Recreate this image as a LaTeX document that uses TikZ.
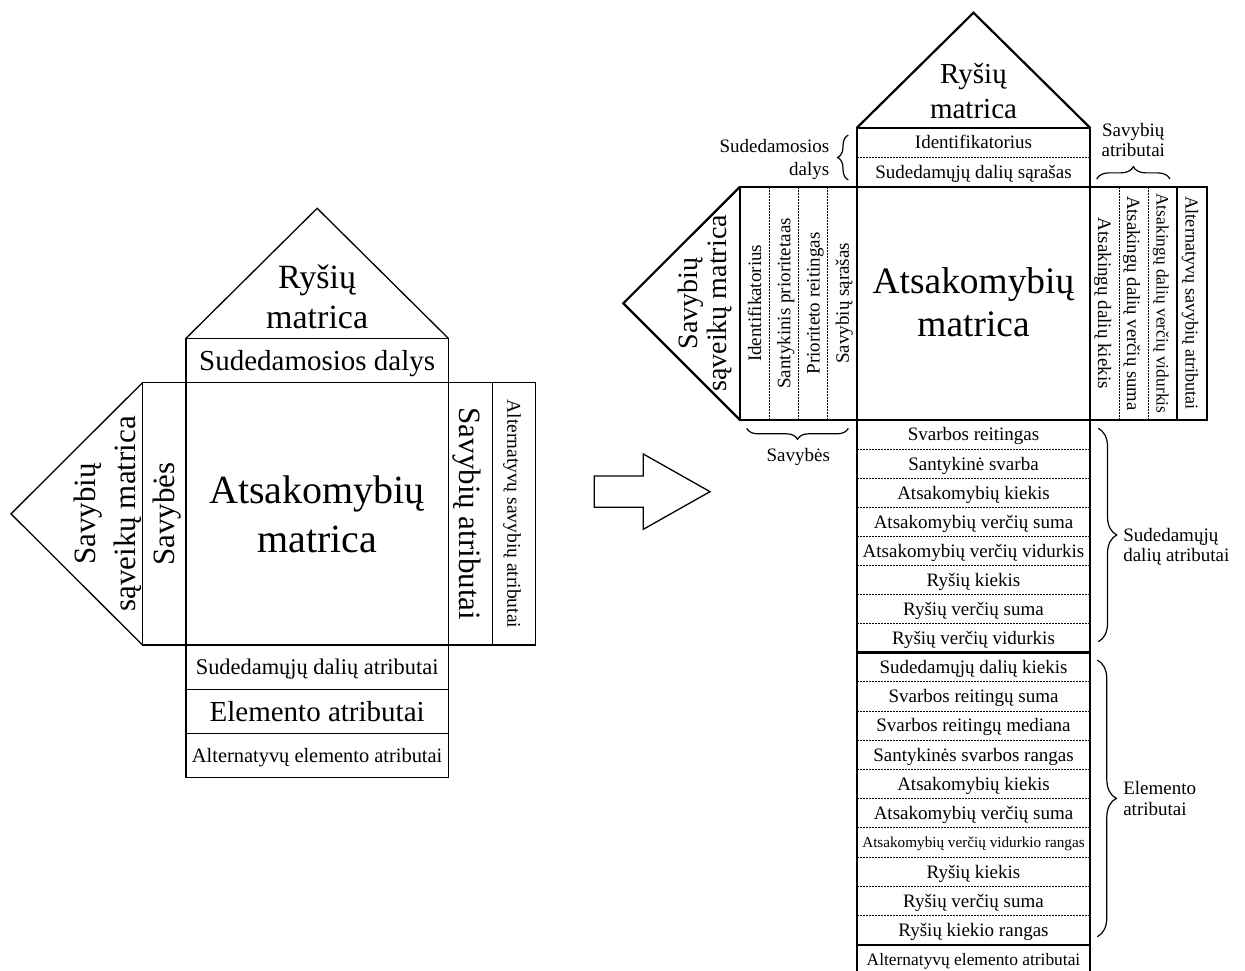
\documentclass[tikz,border=0pt]{standalone}
\usepackage{fontspec}
\setmainfont{Liberation Serif}
\usetikzlibrary{decorations.pathreplacing}

\tikzset{
  % one line of text, centred on its line box
  wtxt/.style={inner sep=0pt, outer sep=0pt,
    font=\fontsize{#1}{\fpeval{1.6875*#1}}\selectfont,
    execute at begin node=\strut},
  % several lines: font size, line spacing
  mtxt/.style 2 args={inner sep=0pt, outer sep=0pt,
    font=\fontsize{#1}{#2}\selectfont, align=center},
  lbox/.style={draw, line width=1.3pt, inner sep=0pt, outer sep=0pt},
  rbox/.style={draw, line width=2.2pt, inner sep=0pt, outer sep=0pt},
  lline/.style={line width=1.3pt, line join=miter},
  rline/.style={line width=2.2pt, line join=miter},
  dotsep/.style={line width=0.8pt, dash pattern=on 1.8pt off 1.2pt},
  brc/.style={decorate, line width=1.2pt,
    decoration={brace, amplitude=#1pt}},
}

\begin{document}
\begin{tikzpicture}[x=1pt,y=-1pt]
\useasboundingbox (0,0) rectangle (1245,970);

% ---------------- overview house ----------------
\coordinate (lapex) at (317.15,208.3);
\coordinate (ltip) at (11,513.85);
\node[lbox, minimum width=262.3, minimum height=44.4] (lsd) at (317.15,360.5) {};
\node[lbox, minimum width=262.3, minimum height=262.3] (lmain) at (317.15,513.85) {};
\node[lbox, minimum width=43.7, minimum height=262.3] (lsv) at (164.35,513.85) {};
\node[lbox, minimum width=44, minimum height=262.3] (lsa) at (470.3,513.85) {};
\node[lbox, minimum width=43.4, minimum height=262.3] (las) at (514,513.85) {};
\node[lbox, minimum width=262.3, minimum height=44.3] (lcp) at (317.15,667.15) {};
\node[lbox, minimum width=262.3, minimum height=44] (lel) at (317.15,711.3) {};
\node[lbox, minimum width=262.3, minimum height=44] (lae) at (317.15,755.3) {};
\draw[lline] (lsd.north west) -- (lapex) -- (lsd.north east);
\draw[lline] (lsv.north west) -- (ltip) -- (lsv.south west);

\node[mtxt={34}{40}] (tlry) at (317.15,300.3) {\strut Ryšių\\matrica\strut};
\node[wtxt=29] (tlsd) at (lsd) {Sudedamosios dalys};
\node[mtxt={40}{49}] (tlat) at (317.15,518) {\strut Atsakomybių\\matrica\strut};
\node[mtxt={31}{40}, rotate=90] (tlsm) at (107.7,513.85) {\strut Savybių\\sąveikų matrica\strut};
\node[wtxt=31, rotate=90] (tlsv) at (lsv) {Savybės};
\node[wtxt=31, rotate=-90] (tlsa) at (lsa) {Savybių atributai};
\node[wtxt=19.5, rotate=-90] (tlas) at (las) {Alternatyvų savybių atributai};
\node[wtxt=22.4] (tlcp) at (lcp) {Sudedamųjų dalių atributai};
\node[wtxt=29] (tlel) at (lel) {Elemento atributai};
\node[wtxt=20.4] (tlae) at (lae) {Alternatyvų elemento atributai};

% ---------------- block arrow ----------------
\draw[lline] (594.3,476) -- (643.3,476) -- (643.3,454) -- (710,491.65)
  -- (643.3,529.3) -- (643.3,507.3) -- (594.3,507.3) -- cycle;

% ---------------- detailed house ----------------
\coordinate (rapex) at (973.5,12.7);
\coordinate (rtip) at (623.3,303.35);
\node[rbox, minimum width=233, minimum height=59] (rsd) at (973.5,157.2) {};
\node[rbox, minimum width=233, minimum height=233.3] (rmain) at (973.5,303.35) {};
\node[rbox, minimum width=117, minimum height=233.3] (rsv) at (798.5,303.35) {};
\node[rbox, minimum width=87, minimum height=233.3] (rsa) at (1133.5,303.35) {};
\node[rbox, minimum width=29.7, minimum height=233.3] (ras) at (1191.85,303.35) {};
\node[rbox, minimum width=233, minimum height=232.5] (rg1) at (973.5,536.25) {};
\node[rbox, minimum width=233, minimum height=292.2] (rg2) at (973.5,798.6) {};
\node[rbox, minimum width=233, minimum height=29.3] (ralt) at (973.5,959.35) {};
\draw[rline] (rsd.north west) -- (rapex) -- (rsd.north east);
\draw[rline] (rsv.north west) -- (rtip) -- (rsv.south west);

% dotted dividers
\draw[dotsep] (rsd.west) -- (rsd.east);
\foreach \x in {769.25,798.5,827.75}
  \draw[dotsep] (\x,186.7) -- (\x,420);
\foreach \x in {1119,1148}
  \draw[dotsep] (\x,186.7) -- (\x,420);
\foreach \k in {1,...,7}
  \draw[dotsep] (857,{420+\k*29.0625}) -- (1090,{420+\k*29.0625});
\foreach \k in {1,...,9}
  \draw[dotsep] (857,{652.5+\k*29.22}) -- (1090,{652.5+\k*29.22});

% texts
\node[mtxt={29}{35}] (trry) at (973.5,93.8) {\strut Ryšių\\matrica\strut};
\node[wtxt=19] (trid) at (973.5,142.45) {Identifikatorius};
\node[wtxt=19] (trsl) at (973.5,171.95) {Sudedamųjų dalių sąrašas};
\node[mtxt={37.4}{43.4}] (trat) at (973.5,306.3) {\strut Atsakomybių\\matrica\strut};
\node[mtxt={28}{29.7}, rotate=90] (trsm) at (706.2,303.35) {\strut Savybių\\sąveikų matrica\strut};

\foreach \t [count=\i] in {Identifikatorius, Santykinis prioritetaas,
    Prioriteto reitingas, Savybių sąrašas}
  \node[wtxt=19, rotate=90] (trs\i) at ({740+(\i-0.5)*29.25},303.35) {\t};
\foreach \t/\f [count=\i] in {Atsakingų dalių kiekis/19,
    Atsakingų dalių verčių suma/18.7,
    Atsakingų dalių verčių vidurkis/17.4}
  \node[wtxt=\f, rotate=-90] (tra\i) at ({1090+(\i-0.5)*29},303.35) {\t};
\node[wtxt=18.2, rotate=-90] (tras) at (ras) {Alternatyvų savybių atributai};

\foreach \t [count=\i] in {Svarbos reitingas, Santykinė svarba,
    Atsakomybių kiekis, Atsakomybių verčių suma, Atsakomybių verčių vidurkis,
    Ryšių kiekis, Ryšių verčių suma, Ryšių verčių vidurkis}
  \node[wtxt=19] (tg1\i) at (973.5,{420+(\i-0.5)*29.0625}) {\t};
\foreach \t/\f [count=\i] in {Sudedamųjų dalių kiekis/19, Svarbos reitingų suma/19,
    Svarbos reitingų mediana/19, Santykinės svarbos rangas/19,
    Atsakomybių kiekis/19, Atsakomybių verčių suma/19,
    Atsakomybių verčių vidurkio rangas/15.2, Ryšių kiekis/19,
    Ryšių verčių suma/19, Ryšių kiekio rangas/19}
  \node[wtxt=\f] (tg2\i) at (973.5,{652.5+(\i-0.5)*29.22}) {\t};
\node[wtxt=17.4] (tralt) at (ralt) {Alternatyvų elemento atributai};

% side labels and braces
\node[mtxt={19}{22.3}, align=right, anchor=east] (lbsd) at (829.3,159.4)
  {\strut Sudedamosios\\dalys\strut};
\node[mtxt={19}{20}] (lbsa) at (1133.3,142.7) {\strut Savybių\\atributai\strut};
\node[wtxt=19] (lbsv) at (798.3,455.3) {Savybės};
\node[mtxt={19}{20}, align=left, anchor=west] (lbcp) at (1123.3,547.7)
  {\strut Sudedamųjų\\dalių atributai\strut};
\node[mtxt={19}{20.7}, align=left, anchor=west] (lbel) at (1123.3,801)
  {\strut Elemento\\atributai\strut};

\coordinate (bsv1) at (848.3,428.3);  \coordinate (bsv2) at (746.7,428.3);
\coordinate (bsd1) at (848.3,180);    \coordinate (bsd2) at (848.3,135);
\coordinate (bsa1) at (1096.7,179);   \coordinate (bsa2) at (1170,179);
\coordinate (bcp1) at (1098.3,428.3); \coordinate (bcp2) at (1098.3,641.7);
\coordinate (bel1) at (1097.3,660);   \coordinate (bel2) at (1097.3,936.7);
\draw[brc=11] (bsv1) -- (bsv2);
\draw[brc=10.6] (bsd1) -- (bsd2);
\draw[brc=12.3] (bsa1) -- (bsa2);
\draw[brc=18.4] (bcp1) -- (bcp2);
\draw[brc=19] (bel1) -- (bel2);
\end{tikzpicture}
\end{document}
